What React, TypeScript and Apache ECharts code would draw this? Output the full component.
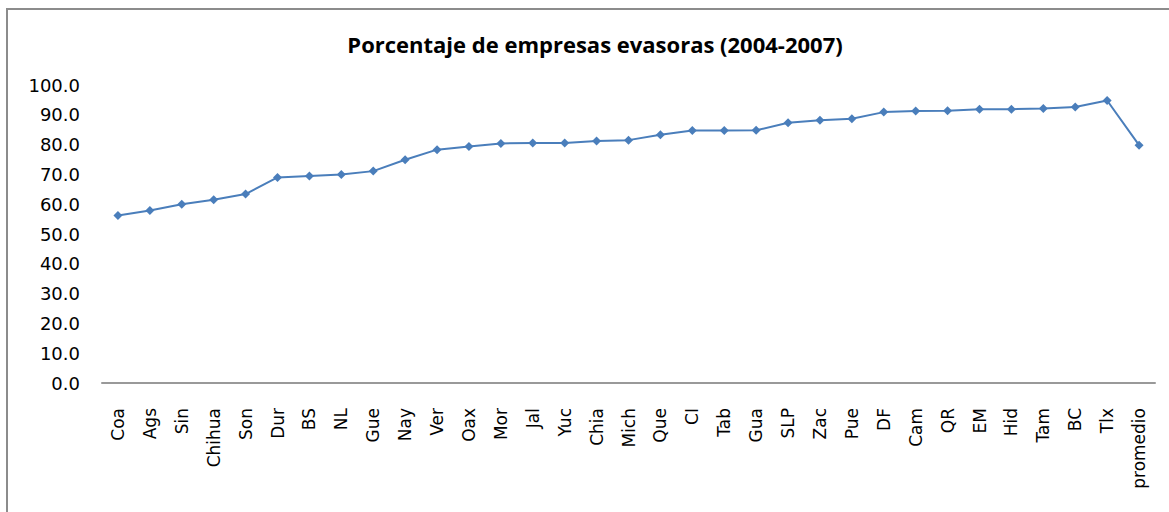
import React, { useEffect, useRef } from "react";
import * as echarts from "echarts";

const categories = [
  "Coa", "Ags", "Sin", "Chihua", "Son", "Dur", "BS", "NL", "Gue", "Nay", "Ver",
  "Oax", "Mor", "Jal", "Yuc", "Chia", "Mich", "Que", "CI", "Tab", "Gua", "SLP",
  "Zac", "Pue", "DF", "Cam", "QR", "EM", "Hid", "Tam", "BC", "Tlx", "promedio",
];

const values = [
  56.2, 57.9, 60.0, 61.5, 63.4, 69.0, 69.5, 70.0, 71.1, 74.9, 78.3,
  79.4, 80.4, 80.5, 80.5, 81.2, 81.5, 83.3, 84.7, 84.7, 84.8, 87.3,
  88.2, 88.7, 90.9, 91.3, 91.4, 91.9, 91.9, 92.1, 92.6, 94.8, 79.8,
];

const title = "Porcentaje de empresas evasoras (2004-2007)";

export default function App() {
  const ref = useRef<HTMLDivElement>(null);
  useEffect(() => {
    if (!ref.current) return;
    const chart = echarts.init(ref.current, null, { renderer: "svg" });
    chart.setOption({
      animation: false,
      title: {
        text: title,
        left: 582,
        top: 20,
        textAlign: "center",
        textStyle: {
          fontFamily: "Open Sans",
          fontWeight: "bold",
          fontSize: 22,
          color: "#000",
        },
      },
      grid: { left: 94, right: 6, top: 77, height: 298 },
      xAxis: {
        type: "category",
        data: categories,
        boundaryGap: true,
        axisLine: { show: true, lineStyle: { color: "#999", width: 2 } },
        axisTick: { show: false },
        axisLabel: {
          rotate: 90,
          interval: 0,
          margin: 25,
          fontFamily: "DejaVu Sans",
          fontSize: 17,
          color: "#000",
        },
        splitLine: { show: false },
      },
      yAxis: {
        type: "value",
        min: 0,
        max: 100,
        interval: 10,
        axisLine: { show: false },
        axisTick: { show: false },
        splitLine: { show: false },
        axisLabel: {
          margin: 22,
          fontFamily: "DejaVu Sans",
          fontSize: 18,
          color: "#000",
          formatter: (v: number) => v.toFixed(1),
        },
      },
      series: [
        {
          type: "line",
          data: values,
          symbol: "diamond",
          symbolSize: 9,
          lineStyle: { color: "#4A7EBB", width: 2 },
          itemStyle: { color: "#4A7EBB" },
        },
      ],
    });
    return () => chart.dispose();
  }, []);
  return (
    <>
      <div
        style={{
          position: "absolute",
          left: 6,
          top: 8,
          width: 1300,
          height: 600,
          borderTop: "2px solid #8c8c8c",
          borderLeft: "2px solid #8c8c8c",
          boxSizing: "border-box",
        }}
      />
      <div
        ref={ref}
        style={{ position: "absolute", left: 8, top: 8, width: 1153, height: 504 }}
      />
    </>
  );
}
